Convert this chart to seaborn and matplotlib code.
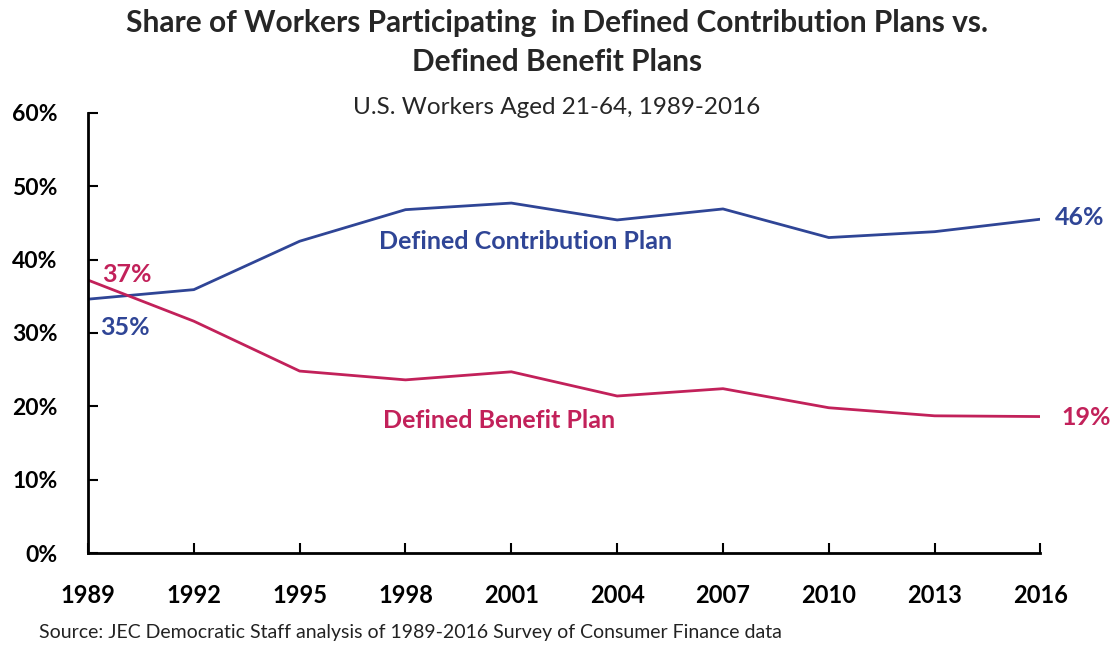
import numpy as np
import pandas as pd
import matplotlib
matplotlib.use("Agg")
import matplotlib.pyplot as plt
import matplotlib.ticker as mtick
import seaborn as sns

sns.set_style("ticks")
plt.rcParams['font.family'] = ['Lato', 'DejaVu Sans']

years = [1989, 1992, 1995, 1998, 2001, 2004, 2007, 2010, 2013, 2016]
dc_share = [34.6, 35.9, 42.5, 46.8, 47.7, 45.4, 46.9, 43.0, 43.8, 45.5]
db_share = [37.2, 31.6, 24.8, 23.6, 24.7, 21.4, 22.4, 19.8, 18.7, 18.6]

dc_name = "Defined Contribution Plan"
db_name = "Defined Benefit Plan"
blue = "#2F4596"
red = "#C2215A"

df = pd.concat([
    pd.DataFrame({"year": years, "share": dc_share, "plan": dc_name}),
    pd.DataFrame({"year": years, "share": db_share, "plan": db_name}),
])

fig = plt.figure(figsize=(11.14, 6.56), dpi=100)
ax = fig.add_axes([0.079, 0.157, 0.855, 0.671])

sns.lineplot(data=df, x="year", y="share", hue="plan",
             palette={dc_name: blue, db_name: red}, linewidth=2, ax=ax,
             legend=False)

ax.set_xlim(1989, 2016)
ax.set_ylim(0, 60)
ax.set_xticks(years)
ax.set_yticks(range(0, 61, 10))
ax.yaxis.set_major_formatter(mtick.FuncFormatter(lambda v, p: f"{v:.0f}%"))
ax.tick_params(axis="both", direction="in", length=7, width=1.5, colors="black")
ax.tick_params(axis="x", pad=22, labelsize=17)
ax.tick_params(axis="y", pad=22, labelsize=16.5)
for lab in ax.get_xticklabels() + ax.get_yticklabels():
    lab.set_fontweight("bold")
ax.set_xlabel("")
ax.set_ylabel("")
for s in ["top", "right"]:
    ax.spines[s].set_visible(False)
for s in ["left", "bottom"]:
    ax.spines[s].set_linewidth(2)
    ax.spines[s].set_color("black")

# series labels
lab_kw = dict(fontsize=18, fontweight="bold", va="center")
ax.text(2001.4, 42.4, dc_name, color=blue, ha="center", **lab_kw)
ax.text(2000.65, 18.1, db_name, color=red, ha="center", **lab_kw)
ax.text(1989.4, 38.0, f"{db_share[0]:.0f}%", color=red, ha="left", **lab_kw)
ax.text(1989.35, 30.8, f"{dc_share[0]:.0f}%", color=blue, ha="left", **lab_kw)
ax.text(2016.4, dc_share[-1] + 0.3, f"{dc_share[-1]:.0f}%", color=blue,
        ha="left", **lab_kw)
ax.text(2016.6, db_share[-1] - 0.1, f"{db_share[-1]:.0f}%", color=red,
        ha="left", **lab_kw)

fig.text(0.5, 0.965, "Share of Workers Participating  in Defined Contribution Plans vs.",
         ha="center", va="center", fontsize=21.5, fontweight="bold")
fig.text(0.5, 0.906, "Defined Benefit Plans", ha="center", va="center",
         fontsize=21.5, fontweight="bold")
fig.text(0.5, 0.836, "U.S. Workers Aged 21-64, 1989-2016", ha="center",
         va="center", fontsize=17.5)
fig.text(0.035, 0.036, "Source: JEC Democratic Staff analysis of 1989-2016 Survey of Consumer Finance data",
         ha="left", va="center", fontsize=14, color="#222222")

fig.savefig("out.png", dpi=100)
